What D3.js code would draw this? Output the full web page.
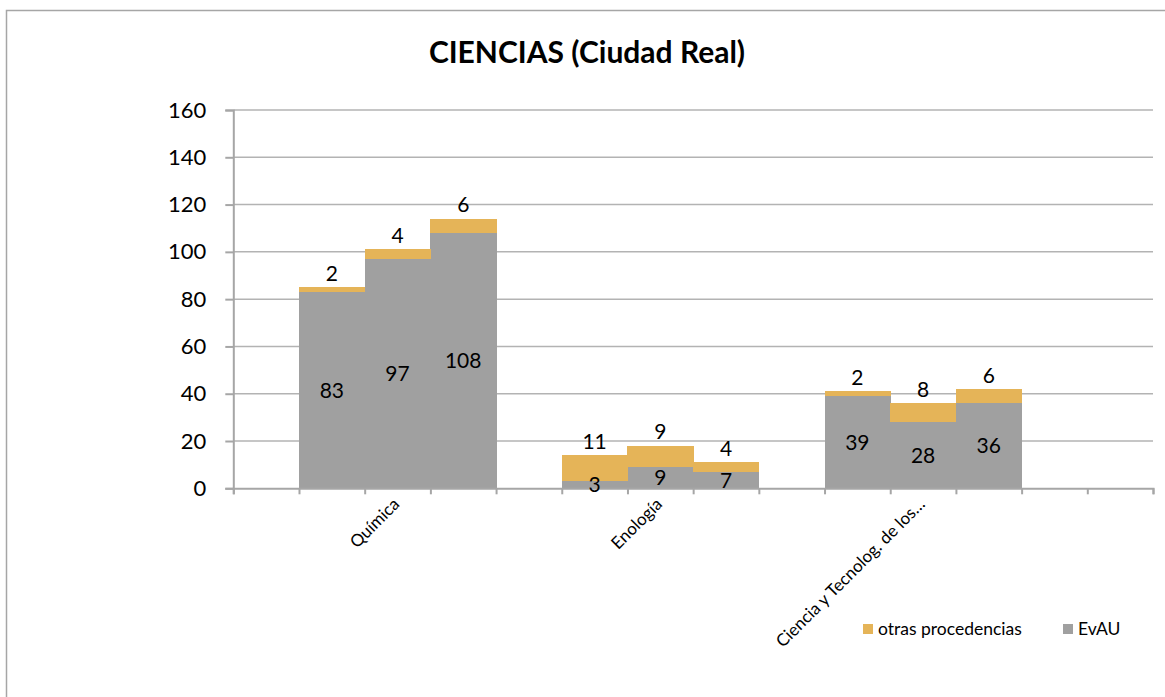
<!DOCTYPE html>
<html>
<head>
<meta charset="utf-8">
<script src="https://cdn.jsdelivr.net/npm/d3@7/dist/d3.min.js"></script>
<style>
  html, body { margin: 0; padding: 0; background: #fff; }
  svg { display: block; font-family: Lato, "Open Sans", sans-serif; }
</style>
</head>
<body>
<svg id="chart" width="1165" height="697"></svg>
<script>
// ---- data ----
const title = "CIENCIAS (Ciudad Real)";
const categories = ["Química", "Enología", "Ciencia y Tecnolog. de los…"];
const seriesNames = ["otras procedencias", "EvAU"];
const evau  = [[83, 97, 108], [3, 9, 7], [39, 28, 36]];
const otras = [[2, 4, 6], [11, 9, 4], [2, 8, 6]];
const yTicks = [0, 20, 40, 60, 80, 100, 120, 140, 160];

// ---- layout ----
const colors = { otras: "#e5b458", evau: "#a0a0a0" };
const plot = { left: 233.3, right: 1153, top: 110, bottom: 488.3 };
const slotsPerGroup = 4;          // one empty slot + 3 bars
const totalSlots = categories.length * slotsPerGroup + 2;

const svg = d3.select("#chart");

// chart border
svg.append("rect")
  .attr("x", 6.5).attr("y", 10.5)
  .attr("width", 1170).attr("height", 700)
  .attr("fill", "none").attr("stroke", "#a6a6a6").attr("stroke-width", 1.5);

// title
svg.append("text")
  .attr("x", 587).attr("y", 63)
  .attr("text-anchor", "middle")
  .attr("font-weight", 700).attr("font-size", 30)
  .attr("fill", "#000")
  .text(title);

// scales
const y = d3.scaleLinear().domain([0, 160]).range([plot.bottom, plot.top]);
const xEdge = d3.scaleLinear().domain([0, totalSlots]).range([plot.left, plot.right]);
const xBand = d3.scaleBand().domain(d3.range(totalSlots)).range([plot.left, plot.right]).padding(0);

// gridlines
svg.append("g").selectAll("line")
  .data(yTicks.filter(t => t > 0))
  .join("line")
  .attr("x1", plot.left).attr("x2", plot.right)
  .attr("y1", d => y(d)).attr("y2", d => y(d))
  .attr("stroke", "#b3b3b3").attr("stroke-width", 1.5);

// build bar records
const bars = [];
categories.forEach((c, ci) => {
  evau[ci].forEach((v, bi) => {
    const slot = ci * slotsPerGroup + 1 + bi;
    bars.push({ cat: c, slot, evau: v, otras: otras[ci][bi] });
  });
});

// stacked bars
const gBars = svg.append("g").attr("shape-rendering", "crispEdges");
gBars.selectAll("rect.evau")
  .data(bars).join("rect")
  .attr("class", "evau")
  .attr("x", d => xBand(d.slot))
  .attr("width", xBand.bandwidth() + 0.5)
  .attr("y", d => y(d.evau))
  .attr("height", d => y(0) - y(d.evau))
  .attr("fill", colors.evau);
gBars.selectAll("rect.otras")
  .data(bars).join("rect")
  .attr("class", "otras")
  .attr("x", d => xBand(d.slot))
  .attr("width", xBand.bandwidth() + 0.5)
  .attr("y", d => y(d.evau + d.otras))
  .attr("height", d => y(d.evau) - y(d.evau + d.otras))
  .attr("fill", colors.otras);

// axes
const yAxis = svg.append("g")
  .attr("transform", `translate(${plot.left},0)`)
  .call(d3.axisLeft(y).tickValues(yTicks).tickSize(8).tickPadding(19));
yAxis.selectAll("text").attr("font-size", 22).attr("fill", "#000").attr("font-family", "Lato, sans-serif");
yAxis.selectAll("line").attr("stroke", "#a6a6a6").attr("stroke-width", 2);
yAxis.select(".domain").attr("stroke", "#a6a6a6").attr("stroke-width", 2);

const xAxis = svg.append("g")
  .attr("transform", `translate(0,${plot.bottom})`)
  .call(d3.axisBottom(xEdge).tickValues(d3.range(totalSlots + 1)).tickSize(6).tickFormat(""));
xAxis.selectAll("line").attr("stroke", "#a6a6a6").attr("stroke-width", 2);
xAxis.select(".domain").attr("stroke", "#a6a6a6").attr("stroke-width", 2);

// category labels (rotated)
svg.append("g").selectAll("text")
  .data(categories)
  .join("text")
  .attr("text-anchor", "end")
  .attr("font-size", 17)
  .attr("fill", "#000")
  .attr("transform", (d, i) => {
    const cx = xBand(i * slotsPerGroup + 2) + xBand.bandwidth() / 2 + 3;
    return `translate(${cx},${plot.bottom + 17}) rotate(-45)`;
  })
  .text(d => d);

// data labels
const gLab = svg.append("g").attr("font-size", 21).attr("fill", "#000").attr("text-anchor", "middle");
gLab.selectAll("text.le")
  .data(bars).join("text")
  .attr("class", "le")
  .attr("x", d => xBand(d.slot) + xBand.bandwidth() / 2)
  .attr("y", d => y(d.evau / 2))
  .attr("dy", "0.36em")
  .text(d => d.evau);
gLab.selectAll("text.lo")
  .data(bars).join("text")
  .attr("class", "lo")
  .attr("x", d => xBand(d.slot) + xBand.bandwidth() / 2)
  .attr("y", d => y(d.evau + d.otras) - 14)
  .attr("dy", "0.36em")
  .text(d => d.otras);

// legend
const legend = svg.append("g").attr("font-size", 17.5);
const legItems = [
  { name: seriesNames[0], color: colors.otras, x: 863 },
  { name: seriesNames[1], color: colors.evau, x: 1063 }
];
legItems.forEach(it => {
  legend.append("rect").attr("x", it.x).attr("y", 624).attr("width", 10).attr("height", 10).attr("fill", it.color);
  legend.append("text").attr("x", it.x + 15).attr("y", 635).attr("fill", "#000").text(it.name);
});
</script>
</body>
</html>
